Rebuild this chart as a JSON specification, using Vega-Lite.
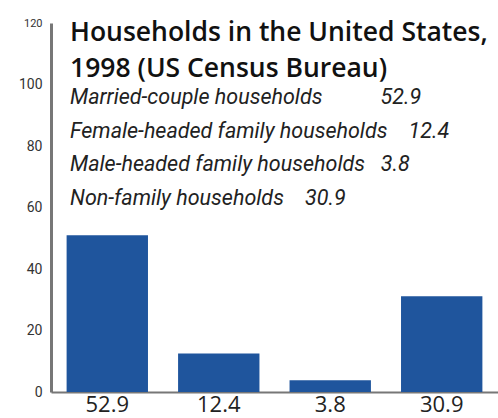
{
  "$schema": "https://vega.github.io/schema/vega-lite/v6.json",
  "width": 447,
  "height": 369,
  "autosize": {"type": "none"},
  "padding": {"left": 51, "top": 23, "right": 0, "bottom": 26},
  "background": "white",
  "data": {"values": [
    {"label": "52.9", "value": 51},
    {"label": "12.4", "value": 12.5},
    {"label": "3.8", "value": 3.8},
    {"label": "30.9", "value": 31.1}
  ]},
  "title": {
    "text": ["Households in the United States,", "1998 (US Census Bureau)"],
    "subtitle": [
      "Married-couple households\u00a0\u00a0\u00a0\u00a0\u00a0\u00a0\u00a0\u00a0\u00a0\u00a0\u00a052.9",
      "Female-headed family households\u00a0\u00a0\u00a0\u00a012.4",
      "Male-headed family households\u00a0\u00a0\u00a03.8",
      "Non-family households\u00a0\u00a0\u00a0\u00a030.9"
    ],
    "anchor": "start",
    "frame": "group",
    "orient": "top",
    "offset": -192,
    "dx": 19,
    "font": "Open Sans",
    "fontSize": 26.5,
    "fontWeight": 600,
    "lineHeight": 36,
    "color": "#111111",
    "subtitleFont": "Roboto",
    "subtitleFontStyle": "italic",
    "subtitleFontSize": 21.5,
    "subtitleLineHeight": 33.5,
    "subtitleColor": "#222222",
    "subtitlePadding": 5
  },
  "mark": {"type": "bar", "color": "#1f559d"},
  "encoding": {
    "x": {
      "field": "label",
      "type": "nominal",
      "sort": null,
      "scale": {"paddingInner": 0.27, "paddingOuter": 0.14},
      "axis": {
        "title": null,
        "labelAngle": 0,
        "ticks": false,
        "labelFont": "Open Sans",
        "labelFontSize": 22,
        "labelColor": "#222222",
        "labelPadding": 2,
        "domainColor": "#777777",
        "domainWidth": 2
      }
    },
    "y": {
      "field": "value",
      "type": "quantitative",
      "scale": {"domain": [0, 120], "nice": false},
      "axis": {
        "title": null,
        "values": [0, 20, 40, 60, 80, 100, 120],
        "ticks": false,
        "grid": false,
        "labelFont": "Roboto",
        "labelFontSize": {"condition": {"test": "datum.value == 120", "value": 11}, "value": 14},
        "labelColor": "#333333",
        "labelPadding": 9,
        "domainColor": "#777777",
        "domainWidth": 3
      }
    }
  },
  "config": {"view": {"stroke": null}}
}
